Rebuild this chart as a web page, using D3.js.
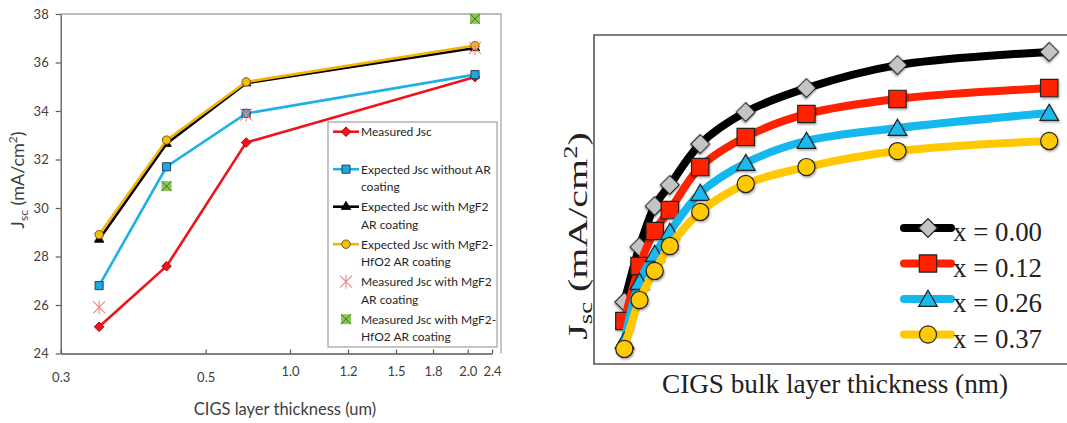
<!DOCTYPE html>
<html><head><meta charset="utf-8">
<script src="https://cdn.jsdelivr.net/npm/d3@7"></script>
<style>body{margin:0;background:#fff} svg{display:block}</style>
</head><body>
<svg id="c" width="1067" height="423"></svg>
<script>
// ---------- LEFT PANEL DATA ----------
const leftXTicks = [0.3, 0.5, 1.0, 1.2, 1.5, 1.8, 2.0, 2.4];
const leftXTickLabels = ["0.3", "0.5", "1.0", "1.2", "1.5", "1.8", "2.0", "2.4"];
const leftYTicks = [24, 26, 28, 30, 32, 34, 36, 38];
const thicknessUm = [0.353, 0.446, 0.74, 2.12];
const measuredJsc = [25.1, 27.6, 32.7, 35.4];
const expectedNoAR = [26.8, 31.7, 33.9, 35.5];
const expectedMgF2 = [28.7, 32.65, 35.15, 36.6];
const expectedMgF2HfO2 = [28.9, 32.8, 35.2, 36.7];
const measuredMgF2Thickness = [0.353, 0.74, 2.12];
const measuredMgF2 = [25.9, 33.85, 36.6];
const measuredMgF2HfO2Thickness = [0.446, 2.12];
const measuredMgF2HfO2 = [30.9, 37.8];
const leftLegendLabels = [
  ["Measured Jsc", ""],
  ["Expected Jsc without AR", "coating"],
  ["Expected Jsc with MgF2", "AR coating"],
  ["Expected Jsc with MgF2-", "HfO2 AR coating"],
  ["Measured Jsc with MgF2", "AR coating"],
  ["Measured Jsc with MgF2-", "HfO2 AR coating"]
];
const leftXTitle = "CIGS layer thickness (um)";

// ---------- RIGHT PANEL DATA ----------
const bulkThicknessNm = [200, 300, 400, 500, 700, 1000, 1400, 2000, 3000];
const jscX000 = [26.64, 28.98, 30.72, 31.62, 33.36, 34.72, 35.74, 36.72, 37.28];
const jscX012 = [25.83, 28.17, 29.66, 30.55, 32.38, 33.66, 34.64, 35.28, 35.74];
const jscX026 = [24.98, 27.49, 28.68, 29.62, 31.28, 32.55, 33.49, 34.04, 34.68];
const jscX037 = [24.64, 26.72, 27.96, 29.02, 30.47, 31.66, 32.38, 33.06, 33.49];
const compositionLabels = ["x = 0.00", "x = 0.12", "x = 0.26", "x = 0.37"];
const rightXTitle = "CIGS bulk layer thickness (nm)";

// ---------- SETUP ----------
const svg = d3.select("#c");
const defs = svg.append("defs");
const flt = defs.append("filter").attr("id", "sh").attr("x", "-50%").attr("y", "-50%").attr("width", "200%").attr("height", "200%");
flt.append("feDropShadow").attr("dx", 1).attr("dy", 1.5).attr("stdDeviation", 1).attr("flood-color", "#000").attr("flood-opacity", 0.35);

const sansFont = "Lato, 'Open Sans', sans-serif";
const serifFont = "'Liberation Serif', 'DejaVu Serif', serif";

// ================= LEFT PANEL =================
const L = {left: 60.7, right: 501, top: 14, bottom: 353.5};
const tickFrac = [0, 0.3293, 0.5208, 0.6525, 0.7615, 0.8456, 0.9244, 0.9796];
const xL = d3.scaleLinear().domain(leftXTicks).range(tickFrac.map(f => L.left + f * (L.right - L.left)));
const yL = d3.scaleLinear().domain([24, 38]).range([L.bottom, L.top]);
const gL = svg.append("g");

gL.append("path")
  .attr("d", `M${L.left},${L.top}H${L.right}V${L.bottom}`)
  .attr("fill", "none").attr("stroke", "#a6a6a6").attr("stroke-width", 1.3);

const yAxisL = gL.append("g").attr("transform", `translate(${L.left},0)`)
  .call(d3.axisLeft(yL).tickValues(leftYTicks).tickSizeInner(5).tickSizeOuter(0).tickPadding(7).tickFormat(d3.format("d")));
const xAxisL = gL.append("g").attr("transform", `translate(0,${L.bottom})`)
  .call(d3.axisBottom(xL).tickValues(leftXTicks).tickSizeInner(-4).tickSizeOuter(0).tickPadding(13).tickFormat((d, i) => leftXTickLabels[i]));
[yAxisL, xAxisL].forEach(ax => {
  ax.select(".domain").attr("stroke", "#595959").attr("stroke-width", 1.3);
  ax.selectAll(".tick line").attr("stroke", "#595959").attr("stroke-width", 1.2);
  ax.selectAll(".tick text").attr("font-family", sansFont).attr("font-size", 13).attr("fill", "#404040");
});
xAxisL.selectAll(".tick text").attr("transform", (d, i) => d < 1 ? "translate(0,6)" : null);

// y title
const ytL = gL.append("text").attr("transform", "translate(24,180) rotate(-90)")
  .attr("text-anchor", "middle").attr("font-family", sansFont).attr("font-size", 18).attr("fill", "#404040");
ytL.append("tspan").text("J");
ytL.append("tspan").attr("font-size", 12).attr("dy", 4).text("sc");
ytL.append("tspan").attr("dy", -4).text(" (mA/cm");
ytL.append("tspan").attr("font-size", 12).attr("dy", -7).text("2");
ytL.append("tspan").attr("dy", 7).text(")");

gL.append("text").attr("x", 285).attr("y", 415).attr("text-anchor", "middle")
  .attr("font-family", sansFont).attr("font-size", 16.5).attr("fill", "#404040").text(leftXTitle);

const leftSeries = [
  {y: measuredJsc, color: "#f0141e", shape: "diamond", fill: "#f0141e", stroke: "#a00000"},
  {y: expectedNoAR, color: "#1fb0e6", shape: "square", fill: "#1fa8e0", stroke: "#1b3550"},
  {y: expectedMgF2, color: "#000", shape: "triangle", fill: "#000", stroke: "#000"},
  {y: expectedMgF2HfO2, color: "#f5b400", shape: "circle", fill: "#f7bb10", stroke: "#6a5000"}
];
function leftSymbol(shape) {
  if (shape === "diamond") return d3.symbol(d3.symbolSquare, 46)();
  if (shape === "square") return d3.symbol(d3.symbolSquare, 66)();
  if (shape === "triangle") return d3.symbol(d3.symbolTriangle, 38)();
  return d3.symbol(d3.symbolCircle, 56)();
}
const lineL = d3.line();
leftSeries.forEach(s => {
  const pts = thicknessUm.map((t, i) => [xL(t), yL(s.y[i])]);
  gL.append("path").attr("d", lineL(pts)).attr("fill", "none").attr("stroke", s.color).attr("stroke-width", 2.6);
  gL.selectAll(null).data(pts).join("path")
    .attr("d", leftSymbol(s.shape))
    .attr("transform", d => `translate(${d[0]},${d[1]})` + (s.shape === "diamond" ? " rotate(45)" : ""))
    .attr("fill", s.fill).attr("stroke", s.stroke).attr("stroke-width", 0.9);
});
function asterisk(g, x, y) {
  const r = 6;
  g.append("path").attr("d", `M${x - r},${y - r}L${x + r},${y + r}M${x - r},${y + r}L${x + r},${y - r}M${x},${y - r - 1}L${x},${y + r + 1}`)
    .attr("stroke", "#f08585").attr("stroke-width", 1.1).attr("fill", "none");
}
function greenX(g, x, y) {
  const r = 5;
  g.append("rect").attr("x", x - r).attr("y", y - r).attr("width", 2 * r).attr("height", 2 * r).attr("fill", "#8cc653");
  g.append("path").attr("d", `M${x - r},${y - r}L${x + r},${y + r}M${x - r},${y + r}L${x + r},${y - r}`)
    .attr("stroke", "#3f6f25").attr("stroke-width", 1).attr("fill", "none");
}
measuredMgF2Thickness.forEach((t, i) => asterisk(gL, xL(t), yL(measuredMgF2[i])));
measuredMgF2HfO2Thickness.forEach((t, i) => greenX(gL, xL(t), yL(measuredMgF2HfO2[i])));

// left legend
const lg = gL.append("g");
lg.append("rect").attr("x", 328).attr("y", 122).attr("width", 169).attr("height", 225)
  .attr("fill", "#fff").attr("stroke", "#8c8c8c").attr("stroke-width", 1);
leftLegendLabels.forEach((lines, i) => {
  const y = 131.7 + i * 37.5;
  if (i < 4) {
    const s = leftSeries[i];
    lg.append("line").attr("x1", 333).attr("x2", 359).attr("y1", y).attr("y2", y).attr("stroke", s.color).attr("stroke-width", 2.6);
    lg.append("path").attr("d", leftSymbol(s.shape))
      .attr("transform", `translate(346,${y})` + (s.shape === "diamond" ? " rotate(45)" : ""))
      .attr("fill", s.fill).attr("stroke", s.stroke).attr("stroke-width", 0.9);
  } else if (i === 4) {
    asterisk(lg, 346, y);
  } else {
    greenX(lg, 346, y);
  }
  lines.forEach((t, k) => {
    lg.append("text").attr("x", 361).attr("y", y + 4.5 + k * 17.6)
      .attr("font-family", sansFont).attr("font-size", 12).attr("fill", "#262626").text(t);
  });
});

// ================= RIGHT PANEL =================
const R = {left: 594, right: 1075, top: 35, bottom: 364};
const xR = d3.scaleLinear().domain([0, 3170]).range([R.left, R.right]);
const yR = d3.scaleLinear().domain([24, 38]).range([R.bottom, R.top]);
const gR = svg.append("g");
gR.append("path").attr("d", `M${R.right},${R.top}H${R.left}V${R.bottom}H${R.right}`)
  .attr("fill", "none").attr("stroke", "#555").attr("stroke-width", 1.6);

const rightSeries = [
  {y: jscX000, color: "#000000", shape: "diamond", fill: "#c4c4c4"},
  {y: jscX012, color: "#ff2200", shape: "square", fill: "#ff2200"},
  {y: jscX026, color: "#14b8ee", shape: "triangle", fill: "#1ab9ee"},
  {y: jscX037, color: "#ffc800", shape: "circle", fill: "#ffcb05"}
];
function rightSymbol(shape) {
  if (shape === "diamond") return d3.symbol(d3.symbolSquare, 175)();
  if (shape === "square") return d3.symbol(d3.symbolSquare, 300)();
  if (shape === "triangle") return d3.symbol(d3.symbolTriangle, 150)();
  return d3.symbol(d3.symbolCircle, 230)();
}
const lineR = d3.line().curve(d3.curveCatmullRom.alpha(0.5));
rightSeries.forEach(s => {
  const pts = bulkThicknessNm.map((t, i) => [xR(t), yR(s.y[i])]);
  gR.append("path").attr("d", lineR(pts)).attr("fill", "none").attr("stroke", s.color)
    .attr("stroke-width", 8).attr("stroke-linecap", "round");
  gR.selectAll(null).data(pts).join("path")
    .attr("d", rightSymbol(s.shape))
    .attr("transform", d => `translate(${d[0]},${d[1] + (s.shape === "triangle" ? 2 : 0)})` + (s.shape === "diamond" ? " rotate(45)" : ""))
    .attr("fill", s.fill).attr("stroke", "#222").attr("stroke-width", 1.2).attr("filter", "url(#sh)");
});

// right legend
compositionLabels.forEach((lab, i) => {
  const s = rightSeries[i];
  const y = 228 + i * 35.5;
  gR.append("line").attr("x1", 904).attr("x2", 951).attr("y1", y).attr("y2", y)
    .attr("stroke", s.color).attr("stroke-width", 8).attr("stroke-linecap", "round");
  gR.append("path").attr("d", rightSymbol(s.shape))
    .attr("transform", `translate(928,${y + (s.shape === "triangle" ? 2 : 0)})` + (s.shape === "diamond" ? " rotate(45)" : ""))
    .attr("fill", s.fill).attr("stroke", "#222").attr("stroke-width", 1.2);
  gR.append("text").attr("x", 953).attr("y", y + 13).attr("font-family", serifFont)
    .attr("font-size", 27).attr("textLength", 89).attr("lengthAdjust", "spacingAndGlyphs")
    .attr("fill", "#222").text(lab);
});

// right axis titles
gR.append("text").attr("x", 662).attr("y", 393)
  .attr("font-family", serifFont).attr("font-size", 27).attr("textLength", 346).attr("lengthAdjust", "spacingAndGlyphs")
  .attr("fill", "#222").text(rightXTitle);
const ytR = gR.append("text").attr("transform", "translate(587,236) rotate(-90) scale(1.48,1)")
  .attr("text-anchor", "middle").attr("font-family", serifFont).attr("font-size", 27).attr("fill", "#222");
ytR.append("tspan").text("J");
ytR.append("tspan").attr("font-size", 18).attr("dy", 5).text("sc");
ytR.append("tspan").attr("dy", -5).text(" (mA/cm");
ytR.append("tspan").attr("font-size", 18).attr("dy", -10).text("2");
ytR.append("tspan").attr("dy", 10).text(")");
</script>
</body></html>
